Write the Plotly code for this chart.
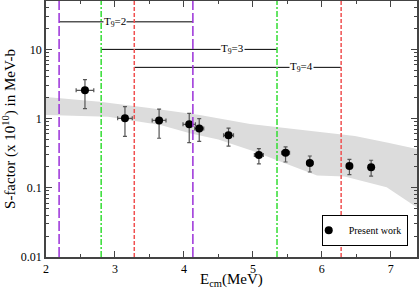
import math
import plotly.graph_objects as go

# Experimental points
energy = [2.565, 3.145, 3.64, 4.077, 4.222, 4.647, 5.087, 5.474, 5.826, 6.40, 6.715]
sfactor = [2.56, 1.01, 0.94, 0.826, 0.72, 0.573, 0.298, 0.321, 0.228, 0.206, 0.198]
err_up = [1.09, 0.48, 0.43, 0.364, 0.28, 0.157, 0.069, 0.069, 0.060, 0.052, 0.052]
err_dn = [1.17, 0.455, 0.42, 0.378, 0.25, 0.173, 0.077, 0.085, 0.059, 0.051, 0.051]
e_err = [0.128, 0.106, 0.10, 0.09, 0.065, 0.072, 0.065, 0.058, 0.045, 0.0, 0.0]

# Gray uncertainty band
band_up_e = [2.0, 2.78, 3.5, 4.23, 4.96, 5.68, 6.33, 6.48, 6.96, 7.38]
band_up_s = [2.05, 1.75, 1.42, 1.13, 0.836, 0.684, 0.579, 0.56, 0.449, 0.363]
band_lo_e = [2.0, 2.9, 3.66, 4.1, 4.5, 5.0, 5.35, 5.93, 6.33, 6.94, 7.38]
band_lo_s = [1.13, 1.06, 0.81, 0.61, 0.50, 0.34, 0.25, 0.151, 0.146, 0.102, 0.052]

# Gamow windows
t9_labels = ["2", "3", "4"]
win_lo = [2.19, 2.8, 3.28]
win_hi = [4.13, 5.35, 6.28]
win_y = [25, 10, 5.5]
label_x = [3.0, 4.71, 5.7]
win_colors = ["#9b30d9", "#33dd33", "#f05050"]
win_dash = ["10px,3px", "6px,2px,2px,2px", "4px,2px"]

fig = go.Figure()

fig.add_trace(go.Scatter(
    x=band_up_e + band_lo_e[::-1], y=band_up_s + band_lo_s[::-1],
    fill="toself", fillcolor="#dcdcdc", line=dict(width=0),
    mode="lines", showlegend=False, hoverinfo="skip"))

for lo, hi, yv, col, dsh in zip(win_lo, win_hi, win_y, win_colors, win_dash):
    for xv in (lo, hi):
        fig.add_shape(type="line", xref="x", yref="paper", x0=xv, x1=xv, y0=0, y1=1,
                      line=dict(color=col, width=1.5, dash=dsh))
    fig.add_trace(go.Scatter(x=[lo, hi], y=[yv, yv], mode="lines",
                             line=dict(color="black", width=1), showlegend=False,
                             hoverinfo="skip"))

for lx, yv, lab in zip(label_x, win_y, t9_labels):
    fig.add_annotation(x=lx, y=math.log10(yv), xref="x", yref="y",
                       text="T<sub>9</sub>=" + lab,
                       showarrow=False, bgcolor="white",
                       font=dict(family="Liberation Serif", size=11, color="black"),
                       borderpad=0)

fig.add_trace(go.Scatter(
    x=energy, y=sfactor, mode="markers", name="Present work",
    marker=dict(color="black", size=8),
    error_y=dict(type="data", array=err_up, arrayminus=err_dn, color="#555555",
                 thickness=1.2, width=2),
    error_x=dict(type="data", array=e_err, color="#555555", thickness=1.2, width=2)))

axis_common = dict(showline=True, linecolor="#444444", linewidth=1.5, mirror="ticks",
                   ticks="inside", tickcolor="#444444", showgrid=False, zeroline=False,
                   automargin=False,
                   tickfont=dict(family="Liberation Serif", size=12, color="black"))

fig.update_xaxes(range=[2, 7.38], dtick=1, ticklen=6,
                 minor=dict(dtick=0.5, ticks="inside", ticklen=3, tickcolor="#444444"),
                 **axis_common)
fig.update_yaxes(type="log", range=[-2, 1.699], ticklen=6,
                 tickvals=[0.01, 0.1, 1, 10], ticktext=["0.01", "0.1", "1", "10"],
                 minor=dict(ticks="inside", ticklen=3, tickcolor="#444444", dtick="D1"),
                 title=dict(text="S-factor (x 10<sup>10</sup>) in MeV-b", standoff=4,
                            font=dict(family="Liberation Serif", size=15, color="black")),
                 **axis_common)

fig.add_annotation(x=0.5, y=-0.09, xref="paper", yref="paper", yanchor="middle",
                   text="E<sub>cm</sub>(MeV)", showarrow=False,
                   font=dict(family="Liberation Serif", size=15, color="black"))

fig.update_layout(
    width=419, height=291, margin=dict(l=46, r=2, t=1, b=34),
    plot_bgcolor="white", paper_bgcolor="white",
    legend=dict(x=0.975, y=0.165, xanchor="right", yanchor="top",
                bordercolor="black", borderwidth=1, bgcolor="white",
                font=dict(family="Liberation Serif", size=10, color="black"),
                itemwidth=30, tracegroupgap=0, indentation=-14),
)

fig.write_html("out.html", config={"displayModeBar": False},
               post_script="document.body.style.margin='0';document.body.style.overflow='hidden';")
